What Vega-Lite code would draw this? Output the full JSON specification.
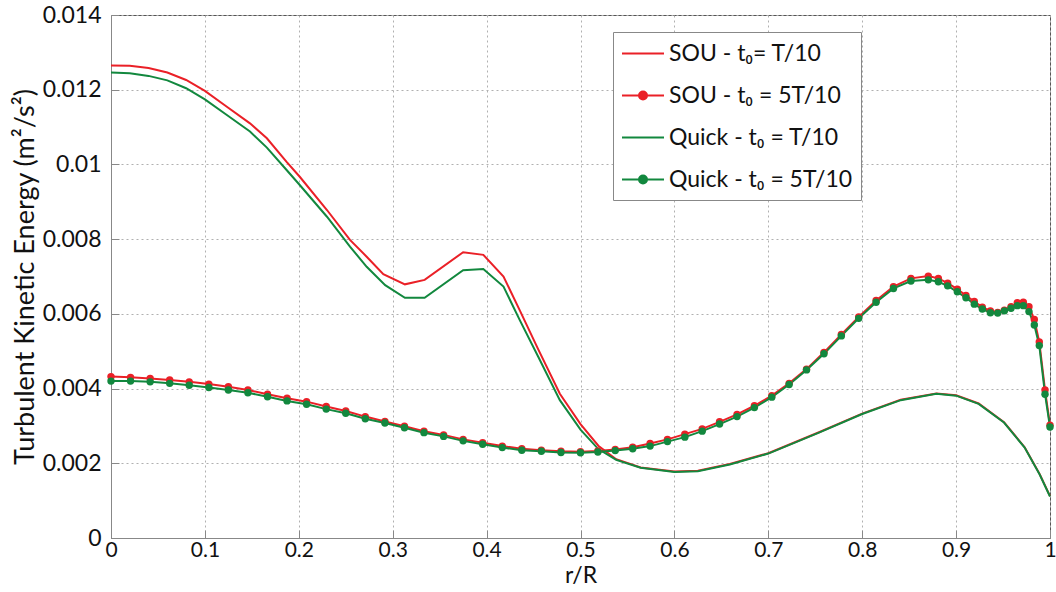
{
  "$schema": "https://vega.github.io/schema/vega-lite/v6.json",
  "width": 939,
  "height": 523,
  "autosize": {"type": "none"},
  "padding": {"left": 111, "top": 15, "right": 6, "bottom": 54},
  "background": "white",
  "config": {
    "font": "Lato",
    "view": {"stroke": "#555", "strokeWidth": 1},
    "axis": {
      "labelFontSize": 23,
      "labelColor": "#111",
      "titleColor": "#111",
      "titleFontWeight": "normal",
      "domainColor": "#888",
      "tickColor": "#888",
      "tickSize": -8,
      "gridColor": "#b0b0b0",
      "gridDash": [2, 3],
      "gridWidth": 1
    },
    "legend": {
      "orient": "none",
      "legendX": 502,
      "legendY": 17,
      "strokeColor": "#888",
      "fillColor": "white",
      "padding": 8,
      "labelFontSize": 23,
      "labelColor": "#111",
      "symbolSize": 625,
      "symbolStrokeWidth": 2,
      "rowPadding": 16,
      "labelOffset": 21,
      "labelLimit": 400
    }
  },
  "data": {
    "values": [
      {"s": "SOU - t₀= T/10", "r": 0, "k": 0.01265},
      {"s": "SOU - t₀= T/10", "r": 0.02, "k": 0.01264},
      {"s": "SOU - t₀= T/10", "r": 0.04, "k": 0.01258},
      {"s": "SOU - t₀= T/10", "r": 0.06, "k": 0.01246},
      {"s": "SOU - t₀= T/10", "r": 0.08, "k": 0.01226},
      {"s": "SOU - t₀= T/10", "r": 0.1, "k": 0.01197},
      {"s": "SOU - t₀= T/10", "r": 0.123, "k": 0.01155},
      {"s": "SOU - t₀= T/10", "r": 0.148, "k": 0.0111},
      {"s": "SOU - t₀= T/10", "r": 0.166, "k": 0.0107},
      {"s": "SOU - t₀= T/10", "r": 0.187, "k": 0.01007},
      {"s": "SOU - t₀= T/10", "r": 0.201, "k": 0.00967},
      {"s": "SOU - t₀= T/10", "r": 0.23, "k": 0.00878},
      {"s": "SOU - t₀= T/10", "r": 0.2545, "k": 0.00798},
      {"s": "SOU - t₀= T/10", "r": 0.2723, "k": 0.00753},
      {"s": "SOU - t₀= T/10", "r": 0.29, "k": 0.00706},
      {"s": "SOU - t₀= T/10", "r": 0.313, "k": 0.00679},
      {"s": "SOU - t₀= T/10", "r": 0.334, "k": 0.00691},
      {"s": "SOU - t₀= T/10", "r": 0.375, "k": 0.00765},
      {"s": "SOU - t₀= T/10", "r": 0.3965, "k": 0.00758},
      {"s": "SOU - t₀= T/10", "r": 0.418, "k": 0.007},
      {"s": "SOU - t₀= T/10", "r": 0.4356, "k": 0.00608},
      {"s": "SOU - t₀= T/10", "r": 0.455, "k": 0.00505},
      {"s": "SOU - t₀= T/10", "r": 0.478, "k": 0.00386},
      {"s": "SOU - t₀= T/10", "r": 0.5, "k": 0.00305},
      {"s": "SOU - t₀= T/10", "r": 0.519, "k": 0.00247},
      {"s": "SOU - t₀= T/10", "r": 0.538, "k": 0.00211},
      {"s": "SOU - t₀= T/10", "r": 0.564, "k": 0.00189},
      {"s": "SOU - t₀= T/10", "r": 0.6, "k": 0.00178},
      {"s": "SOU - t₀= T/10", "r": 0.625, "k": 0.0018},
      {"s": "SOU - t₀= T/10", "r": 0.659, "k": 0.00198},
      {"s": "SOU - t₀= T/10", "r": 0.7, "k": 0.00227},
      {"s": "SOU - t₀= T/10", "r": 0.754, "k": 0.00283},
      {"s": "SOU - t₀= T/10", "r": 0.8, "k": 0.00333},
      {"s": "SOU - t₀= T/10", "r": 0.841, "k": 0.0037},
      {"s": "SOU - t₀= T/10", "r": 0.879, "k": 0.00387},
      {"s": "SOU - t₀= T/10", "r": 0.9, "k": 0.00382},
      {"s": "SOU - t₀= T/10", "r": 0.924, "k": 0.0036},
      {"s": "SOU - t₀= T/10", "r": 0.951, "k": 0.0031},
      {"s": "SOU - t₀= T/10", "r": 0.973, "k": 0.00243},
      {"s": "SOU - t₀= T/10", "r": 0.989, "k": 0.00171},
      {"s": "SOU - t₀= T/10", "r": 1, "k": 0.00112},

      {"s": "SOU - t₀ = 5T/10", "r": 0, "k": 0.00432},
      {"s": "SOU - t₀ = 5T/10", "r": 0.0208, "k": 0.0043},
      {"s": "SOU - t₀ = 5T/10", "r": 0.0417, "k": 0.00427},
      {"s": "SOU - t₀ = 5T/10", "r": 0.0625, "k": 0.00423},
      {"s": "SOU - t₀ = 5T/10", "r": 0.0833, "k": 0.00418},
      {"s": "SOU - t₀ = 5T/10", "r": 0.1042, "k": 0.00412},
      {"s": "SOU - t₀ = 5T/10", "r": 0.125, "k": 0.00405},
      {"s": "SOU - t₀ = 5T/10", "r": 0.1458, "k": 0.00396},
      {"s": "SOU - t₀ = 5T/10", "r": 0.1667, "k": 0.00385},
      {"s": "SOU - t₀ = 5T/10", "r": 0.1875, "k": 0.00374},
      {"s": "SOU - t₀ = 5T/10", "r": 0.2083, "k": 0.00365},
      {"s": "SOU - t₀ = 5T/10", "r": 0.2292, "k": 0.00352},
      {"s": "SOU - t₀ = 5T/10", "r": 0.25, "k": 0.0034},
      {"s": "SOU - t₀ = 5T/10", "r": 0.2708, "k": 0.00325},
      {"s": "SOU - t₀ = 5T/10", "r": 0.2917, "k": 0.00312},
      {"s": "SOU - t₀ = 5T/10", "r": 0.3125, "k": 0.00299},
      {"s": "SOU - t₀ = 5T/10", "r": 0.3333, "k": 0.00286},
      {"s": "SOU - t₀ = 5T/10", "r": 0.3542, "k": 0.00276},
      {"s": "SOU - t₀ = 5T/10", "r": 0.375, "k": 0.00264},
      {"s": "SOU - t₀ = 5T/10", "r": 0.3958, "k": 0.00255},
      {"s": "SOU - t₀ = 5T/10", "r": 0.4167, "k": 0.00246},
      {"s": "SOU - t₀ = 5T/10", "r": 0.4375, "k": 0.00239},
      {"s": "SOU - t₀ = 5T/10", "r": 0.4583, "k": 0.00235},
      {"s": "SOU - t₀ = 5T/10", "r": 0.4792, "k": 0.00232},
      {"s": "SOU - t₀ = 5T/10", "r": 0.5, "k": 0.00231},
      {"s": "SOU - t₀ = 5T/10", "r": 0.5185, "k": 0.00233},
      {"s": "SOU - t₀ = 5T/10", "r": 0.537, "k": 0.00237},
      {"s": "SOU - t₀ = 5T/10", "r": 0.5556, "k": 0.00243},
      {"s": "SOU - t₀ = 5T/10", "r": 0.5741, "k": 0.00253},
      {"s": "SOU - t₀ = 5T/10", "r": 0.5926, "k": 0.00264},
      {"s": "SOU - t₀ = 5T/10", "r": 0.6111, "k": 0.00278},
      {"s": "SOU - t₀ = 5T/10", "r": 0.6296, "k": 0.00292},
      {"s": "SOU - t₀ = 5T/10", "r": 0.6481, "k": 0.00311},
      {"s": "SOU - t₀ = 5T/10", "r": 0.6667, "k": 0.00331},
      {"s": "SOU - t₀ = 5T/10", "r": 0.6852, "k": 0.00354},
      {"s": "SOU - t₀ = 5T/10", "r": 0.7037, "k": 0.00381},
      {"s": "SOU - t₀ = 5T/10", "r": 0.7222, "k": 0.00414},
      {"s": "SOU - t₀ = 5T/10", "r": 0.7407, "k": 0.00452},
      {"s": "SOU - t₀ = 5T/10", "r": 0.7593, "k": 0.00497},
      {"s": "SOU - t₀ = 5T/10", "r": 0.7778, "k": 0.00545},
      {"s": "SOU - t₀ = 5T/10", "r": 0.7963, "k": 0.00592},
      {"s": "SOU - t₀ = 5T/10", "r": 0.8148, "k": 0.00636},
      {"s": "SOU - t₀ = 5T/10", "r": 0.8333, "k": 0.00673},
      {"s": "SOU - t₀ = 5T/10", "r": 0.8519, "k": 0.00695},
      {"s": "SOU - t₀ = 5T/10", "r": 0.8704, "k": 0.00701},
      {"s": "SOU - t₀ = 5T/10", "r": 0.8811, "k": 0.00695},
      {"s": "SOU - t₀ = 5T/10", "r": 0.891, "k": 0.00682},
      {"s": "SOU - t₀ = 5T/10", "r": 0.9013, "k": 0.00666},
      {"s": "SOU - t₀ = 5T/10", "r": 0.9105, "k": 0.00649},
      {"s": "SOU - t₀ = 5T/10", "r": 0.9194, "k": 0.00633},
      {"s": "SOU - t₀ = 5T/10", "r": 0.9279, "k": 0.00618},
      {"s": "SOU - t₀ = 5T/10", "r": 0.9365, "k": 0.00608},
      {"s": "SOU - t₀ = 5T/10", "r": 0.9443, "k": 0.00604},
      {"s": "SOU - t₀ = 5T/10", "r": 0.9514, "k": 0.0061},
      {"s": "SOU - t₀ = 5T/10", "r": 0.9585, "k": 0.00619},
      {"s": "SOU - t₀ = 5T/10", "r": 0.9652, "k": 0.0063},
      {"s": "SOU - t₀ = 5T/10", "r": 0.9716, "k": 0.00631},
      {"s": "SOU - t₀ = 5T/10", "r": 0.9776, "k": 0.00619},
      {"s": "SOU - t₀ = 5T/10", "r": 0.9833, "k": 0.00585},
      {"s": "SOU - t₀ = 5T/10", "r": 0.9886, "k": 0.00525},
      {"s": "SOU - t₀ = 5T/10", "r": 0.9947, "k": 0.00396},
      {"s": "SOU - t₀ = 5T/10", "r": 1, "k": 0.00302},

      {"s": "Quick - t₀ = T/10", "r": 0, "k": 0.01246},
      {"s": "Quick - t₀ = T/10", "r": 0.02, "k": 0.01244},
      {"s": "Quick - t₀ = T/10", "r": 0.04, "k": 0.01237},
      {"s": "Quick - t₀ = T/10", "r": 0.06, "k": 0.01225},
      {"s": "Quick - t₀ = T/10", "r": 0.08, "k": 0.01204},
      {"s": "Quick - t₀ = T/10", "r": 0.1, "k": 0.01174},
      {"s": "Quick - t₀ = T/10", "r": 0.123, "k": 0.01133},
      {"s": "Quick - t₀ = T/10", "r": 0.148, "k": 0.01088},
      {"s": "Quick - t₀ = T/10", "r": 0.166, "k": 0.01045},
      {"s": "Quick - t₀ = T/10", "r": 0.187, "k": 0.00985},
      {"s": "Quick - t₀ = T/10", "r": 0.201, "k": 0.00945},
      {"s": "Quick - t₀ = T/10", "r": 0.23, "k": 0.0086},
      {"s": "Quick - t₀ = T/10", "r": 0.2545, "k": 0.0078},
      {"s": "Quick - t₀ = T/10", "r": 0.2723, "k": 0.00726},
      {"s": "Quick - t₀ = T/10", "r": 0.292, "k": 0.00677},
      {"s": "Quick - t₀ = T/10", "r": 0.313, "k": 0.00643},
      {"s": "Quick - t₀ = T/10", "r": 0.334, "k": 0.00643},
      {"s": "Quick - t₀ = T/10", "r": 0.375, "k": 0.00717},
      {"s": "Quick - t₀ = T/10", "r": 0.3965, "k": 0.0072},
      {"s": "Quick - t₀ = T/10", "r": 0.418, "k": 0.00673},
      {"s": "Quick - t₀ = T/10", "r": 0.4356, "k": 0.00582},
      {"s": "Quick - t₀ = T/10", "r": 0.455, "k": 0.00485},
      {"s": "Quick - t₀ = T/10", "r": 0.478, "k": 0.00369},
      {"s": "Quick - t₀ = T/10", "r": 0.5, "k": 0.0029},
      {"s": "Quick - t₀ = T/10", "r": 0.519, "k": 0.00238},
      {"s": "Quick - t₀ = T/10", "r": 0.538, "k": 0.00209},
      {"s": "Quick - t₀ = T/10", "r": 0.564, "k": 0.00188},
      {"s": "Quick - t₀ = T/10", "r": 0.6, "k": 0.00177},
      {"s": "Quick - t₀ = T/10", "r": 0.625, "k": 0.00179},
      {"s": "Quick - t₀ = T/10", "r": 0.659, "k": 0.00197},
      {"s": "Quick - t₀ = T/10", "r": 0.7, "k": 0.00226},
      {"s": "Quick - t₀ = T/10", "r": 0.754, "k": 0.00282},
      {"s": "Quick - t₀ = T/10", "r": 0.8, "k": 0.00332},
      {"s": "Quick - t₀ = T/10", "r": 0.841, "k": 0.00369},
      {"s": "Quick - t₀ = T/10", "r": 0.879, "k": 0.00386},
      {"s": "Quick - t₀ = T/10", "r": 0.9, "k": 0.00381},
      {"s": "Quick - t₀ = T/10", "r": 0.924, "k": 0.00359},
      {"s": "Quick - t₀ = T/10", "r": 0.951, "k": 0.00309},
      {"s": "Quick - t₀ = T/10", "r": 0.973, "k": 0.00242},
      {"s": "Quick - t₀ = T/10", "r": 0.989, "k": 0.0017},
      {"s": "Quick - t₀ = T/10", "r": 1, "k": 0.00111},

      {"s": "Quick - t₀ = 5T/10", "r": 0, "k": 0.0042},
      {"s": "Quick - t₀ = 5T/10", "r": 0.0208, "k": 0.0042},
      {"s": "Quick - t₀ = 5T/10", "r": 0.0417, "k": 0.00418},
      {"s": "Quick - t₀ = 5T/10", "r": 0.0625, "k": 0.00414},
      {"s": "Quick - t₀ = 5T/10", "r": 0.0833, "k": 0.00409},
      {"s": "Quick - t₀ = 5T/10", "r": 0.1042, "k": 0.00403},
      {"s": "Quick - t₀ = 5T/10", "r": 0.125, "k": 0.00396},
      {"s": "Quick - t₀ = 5T/10", "r": 0.1458, "k": 0.00389},
      {"s": "Quick - t₀ = 5T/10", "r": 0.1667, "k": 0.00378},
      {"s": "Quick - t₀ = 5T/10", "r": 0.1875, "k": 0.00367},
      {"s": "Quick - t₀ = 5T/10", "r": 0.2083, "k": 0.00358},
      {"s": "Quick - t₀ = 5T/10", "r": 0.2292, "k": 0.00345},
      {"s": "Quick - t₀ = 5T/10", "r": 0.25, "k": 0.00334},
      {"s": "Quick - t₀ = 5T/10", "r": 0.2708, "k": 0.00319},
      {"s": "Quick - t₀ = 5T/10", "r": 0.2917, "k": 0.00308},
      {"s": "Quick - t₀ = 5T/10", "r": 0.3125, "k": 0.00295},
      {"s": "Quick - t₀ = 5T/10", "r": 0.3333, "k": 0.00282},
      {"s": "Quick - t₀ = 5T/10", "r": 0.3542, "k": 0.00272},
      {"s": "Quick - t₀ = 5T/10", "r": 0.375, "k": 0.0026},
      {"s": "Quick - t₀ = 5T/10", "r": 0.3958, "k": 0.00251},
      {"s": "Quick - t₀ = 5T/10", "r": 0.4167, "k": 0.00242},
      {"s": "Quick - t₀ = 5T/10", "r": 0.4375, "k": 0.00235},
      {"s": "Quick - t₀ = 5T/10", "r": 0.4583, "k": 0.00232},
      {"s": "Quick - t₀ = 5T/10", "r": 0.4792, "k": 0.00229},
      {"s": "Quick - t₀ = 5T/10", "r": 0.5, "k": 0.00228},
      {"s": "Quick - t₀ = 5T/10", "r": 0.5185, "k": 0.0023},
      {"s": "Quick - t₀ = 5T/10", "r": 0.537, "k": 0.00234},
      {"s": "Quick - t₀ = 5T/10", "r": 0.5556, "k": 0.00239},
      {"s": "Quick - t₀ = 5T/10", "r": 0.5741, "k": 0.00246},
      {"s": "Quick - t₀ = 5T/10", "r": 0.5926, "k": 0.00258},
      {"s": "Quick - t₀ = 5T/10", "r": 0.6111, "k": 0.0027},
      {"s": "Quick - t₀ = 5T/10", "r": 0.6296, "k": 0.00286},
      {"s": "Quick - t₀ = 5T/10", "r": 0.6481, "k": 0.00305},
      {"s": "Quick - t₀ = 5T/10", "r": 0.6667, "k": 0.00325},
      {"s": "Quick - t₀ = 5T/10", "r": 0.6852, "k": 0.00349},
      {"s": "Quick - t₀ = 5T/10", "r": 0.7037, "k": 0.00377},
      {"s": "Quick - t₀ = 5T/10", "r": 0.7222, "k": 0.00411},
      {"s": "Quick - t₀ = 5T/10", "r": 0.7407, "k": 0.0045},
      {"s": "Quick - t₀ = 5T/10", "r": 0.7593, "k": 0.00493},
      {"s": "Quick - t₀ = 5T/10", "r": 0.7778, "k": 0.00541},
      {"s": "Quick - t₀ = 5T/10", "r": 0.7963, "k": 0.00588},
      {"s": "Quick - t₀ = 5T/10", "r": 0.8148, "k": 0.00631},
      {"s": "Quick - t₀ = 5T/10", "r": 0.8333, "k": 0.00668},
      {"s": "Quick - t₀ = 5T/10", "r": 0.8519, "k": 0.00688},
      {"s": "Quick - t₀ = 5T/10", "r": 0.8704, "k": 0.00691},
      {"s": "Quick - t₀ = 5T/10", "r": 0.8811, "k": 0.00686},
      {"s": "Quick - t₀ = 5T/10", "r": 0.891, "k": 0.00675},
      {"s": "Quick - t₀ = 5T/10", "r": 0.9013, "k": 0.00659},
      {"s": "Quick - t₀ = 5T/10", "r": 0.9105, "k": 0.00643},
      {"s": "Quick - t₀ = 5T/10", "r": 0.9194, "k": 0.00626},
      {"s": "Quick - t₀ = 5T/10", "r": 0.9279, "k": 0.00613},
      {"s": "Quick - t₀ = 5T/10", "r": 0.9365, "k": 0.00603},
      {"s": "Quick - t₀ = 5T/10", "r": 0.9443, "k": 0.00602},
      {"s": "Quick - t₀ = 5T/10", "r": 0.9514, "k": 0.00608},
      {"s": "Quick - t₀ = 5T/10", "r": 0.9585, "k": 0.00615},
      {"s": "Quick - t₀ = 5T/10", "r": 0.9652, "k": 0.00622},
      {"s": "Quick - t₀ = 5T/10", "r": 0.9716, "k": 0.00622},
      {"s": "Quick - t₀ = 5T/10", "r": 0.9776, "k": 0.00606},
      {"s": "Quick - t₀ = 5T/10", "r": 0.9833, "k": 0.0057},
      {"s": "Quick - t₀ = 5T/10", "r": 0.9886, "k": 0.00515},
      {"s": "Quick - t₀ = 5T/10", "r": 0.9947, "k": 0.00385},
      {"s": "Quick - t₀ = 5T/10", "r": 1, "k": 0.00297}
    ]
  },
  "encoding": {
    "x": {
      "field": "r",
      "type": "quantitative",
      "scale": {"domain": [0, 1], "nice": false, "zero": false},
      "axis": {
        "title": "r/R",
        "titleFontSize": 23,
        "titlePadding": 4,
        "labelFontSize": 21,
        "labelPadding": 9,
        "values": [0, 0.1, 0.2, 0.3, 0.4, 0.5, 0.6, 0.7, 0.8, 0.9, 1],
        "format": "~g",
        "labelFlush": false
      }
    },
    "y": {
      "field": "k",
      "type": "quantitative",
      "scale": {"domain": [0, 0.014], "nice": false},
      "axis": {
        "title": "Turbulent Kinetic Energy (m²/s²)",
        "titleFontSize": 27,
        "titlePadding": 3,
        "labelPadding": 18,
        "values": [0, 0.002, 0.004, 0.006, 0.008, 0.01, 0.012, 0.014],
        "format": "~g",
        "labelFlush": false
      }
    },
    "color": {
      "field": "s",
      "type": "nominal",
      "scale": {
        "domain": ["SOU - t₀= T/10", "SOU - t₀ = 5T/10", "Quick - t₀ = T/10", "Quick - t₀ = 5T/10"],
        "range": ["#EA2027", "#EA2027", "#12883E", "#12883E"]
      }
    }
  },
  "layer": [
    {
      "mark": {"type": "line", "strokeWidth": 2},
      "encoding": {
        "color": {
          "field": "s",
          "type": "nominal",
          "sort": null,
          "legend": {
            "title": null,
            "encode": {
              "symbols": {
                "update": {
                  "shape": [
                    {"test": "indexof(datum.value, '5T') >= 0", "value": "M-1,0L2.36,0M1,0A0.32,0.32,0,1,1,0.36,0A0.32,0.32,0,1,1,1,0Z"},
                    {"value": "M-1,0L2.36,0"}
                  ],
                  "fill": {"scale": "color", "field": "value"},
                  "fillOpacity": {"value": 1},
                  "size": {"value": 625},
                  "strokeWidth": {"value": 2}
                }
              }
            }
          }
        }
      }
    },
    {
      "transform": [{"filter": "indexof(datum.s, '5T') >= 0"}],
      "mark": {"type": "point", "filled": true, "size": 55, "opacity": 1},
      "encoding": {
        "color": {"field": "s", "type": "nominal", "legend": null}
      }
    }
  ]
}
